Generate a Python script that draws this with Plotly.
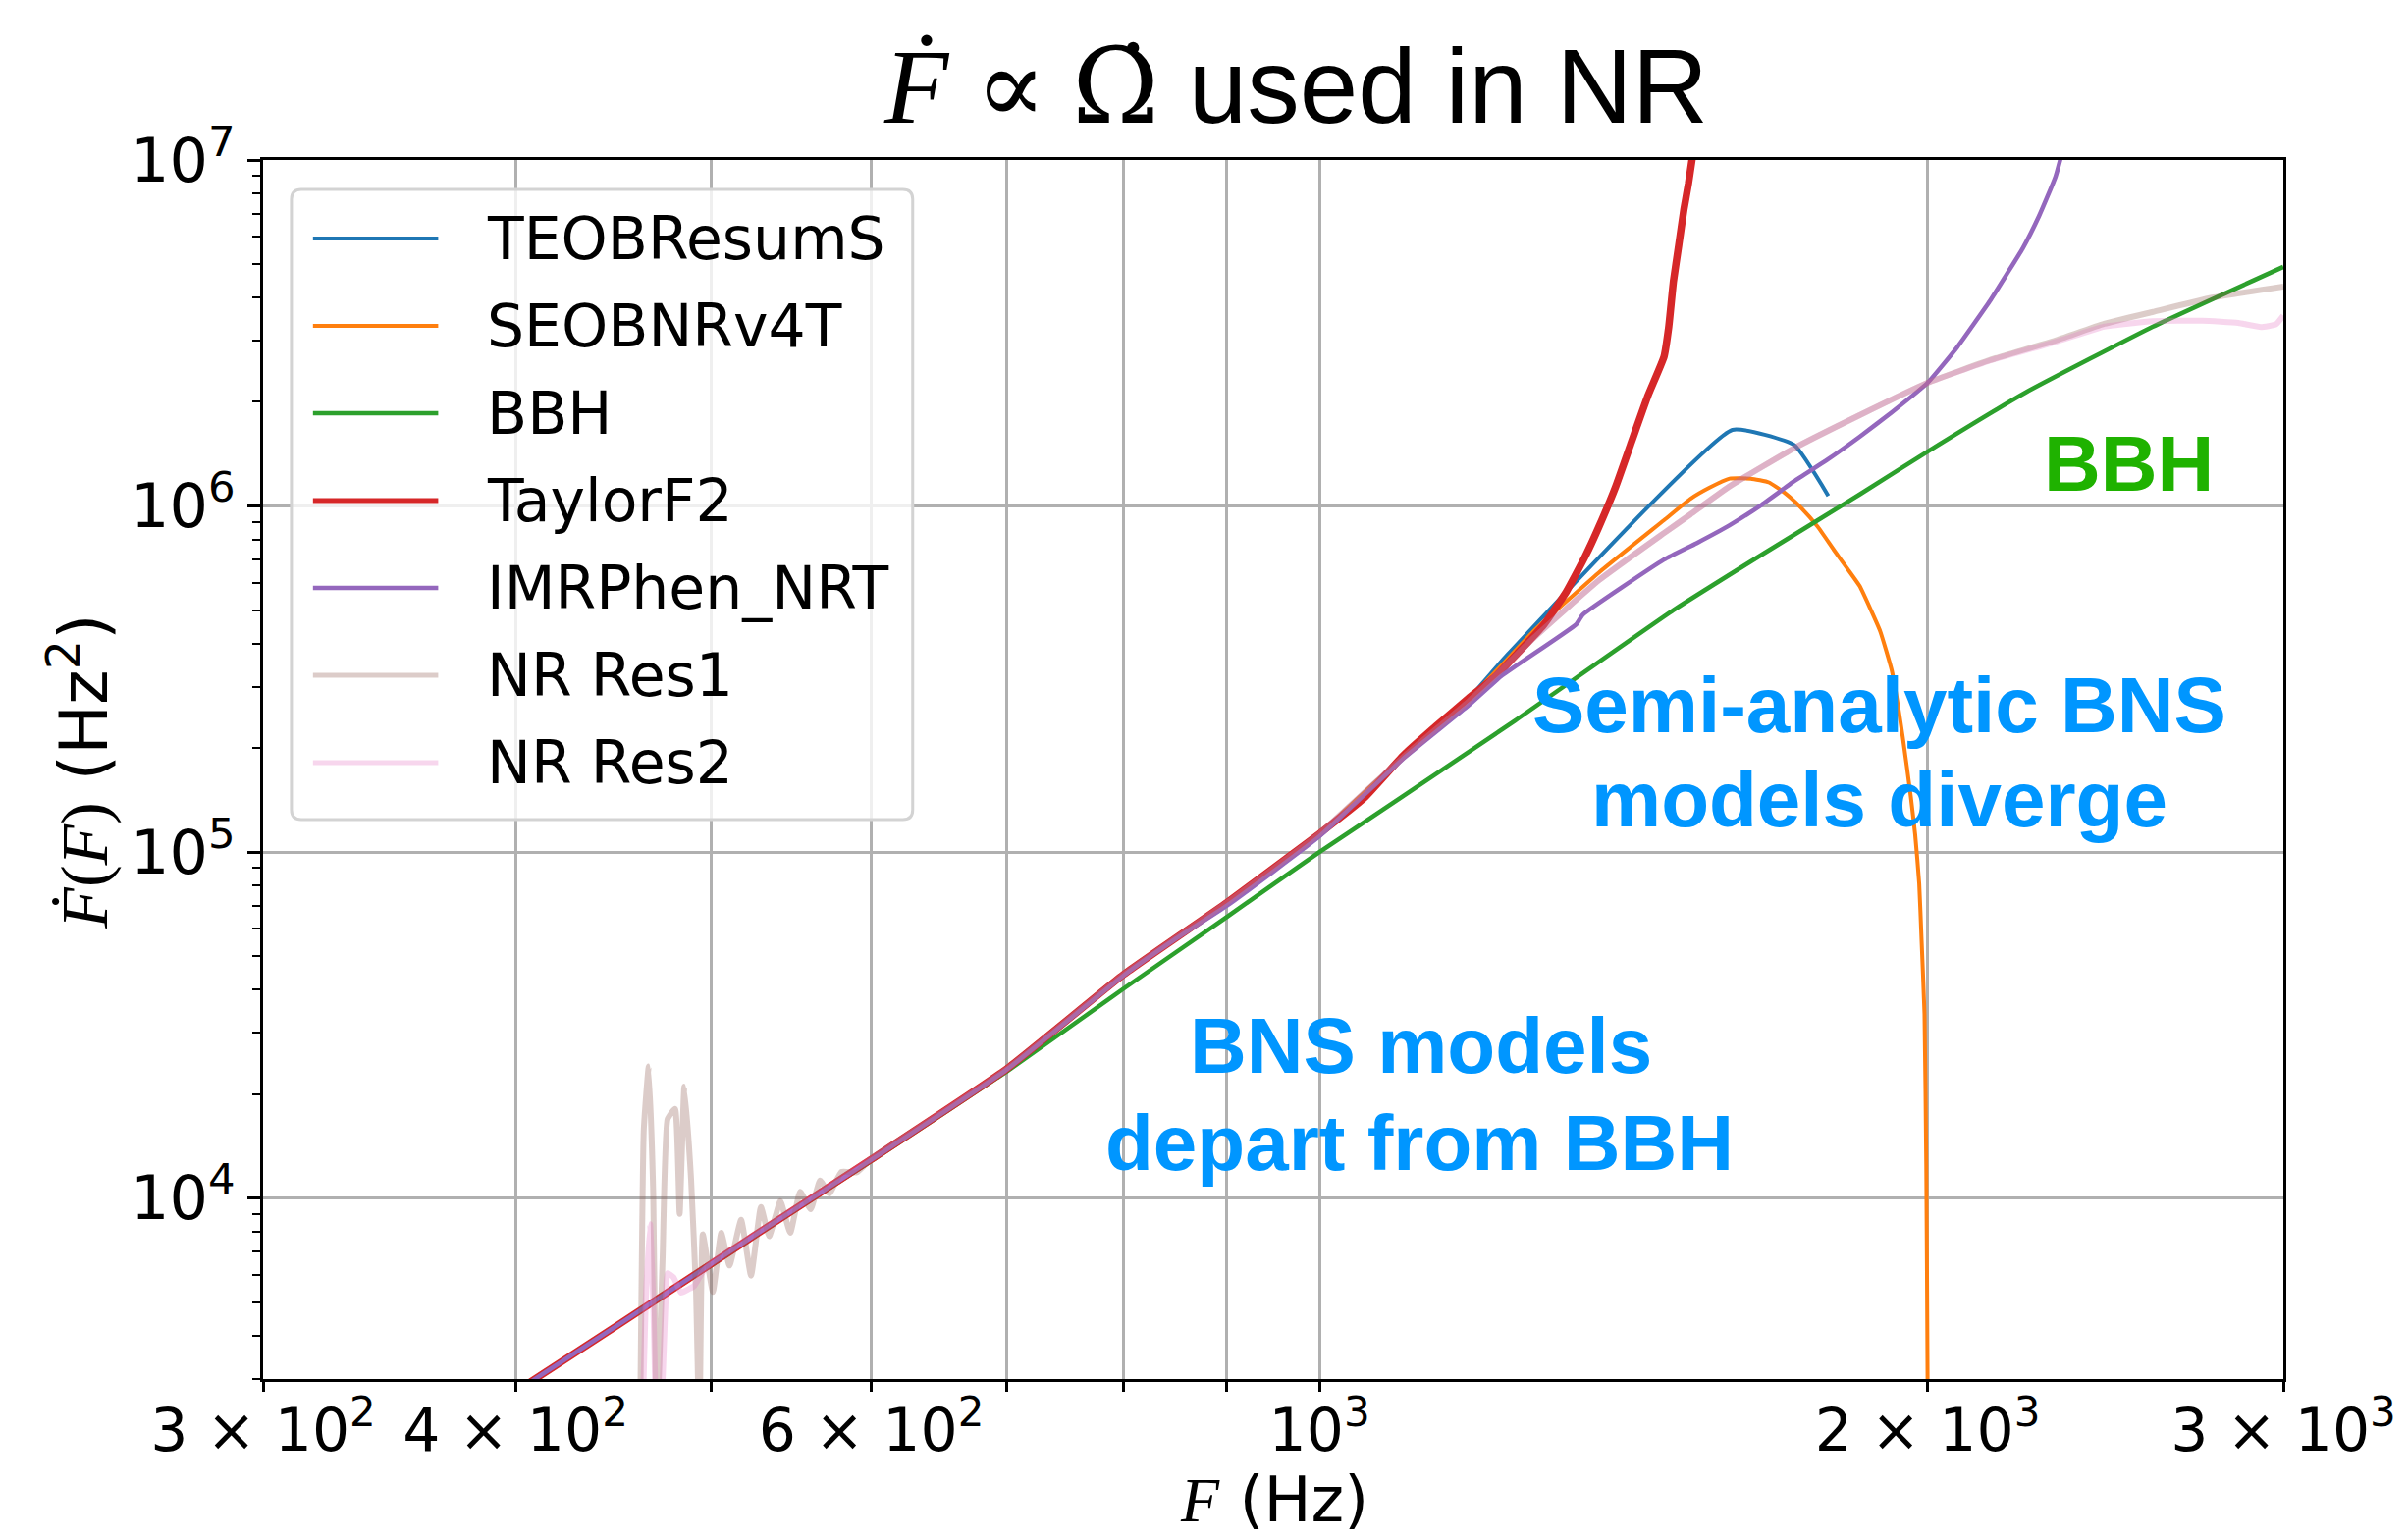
import math
import plotly.graph_objects as go

# ---------------- data ----------------
TEOB_F = [400, 450, 500, 533, 600, 700, 800, 900, 1000, 1100, 1185, 1239, 1601, 1718, 1786]
TEOB_FD = [2757, 4313, 6460, 8250, 12950, 23600, 44300, 71500, 1.13e5, 1.89e5, 2.77e5, 3.72e5,
           1.66e6, 1.50e6, 1.07e6]

SEOB_F = [400, 450, 500, 533, 600, 700, 800, 900, 1000, 1100, 1185, 1230, 1276, 1375, 1481, 1526,
          1560, 1596, 1635, 1669, 1700, 1731, 1765, 1797, 1825, 1851, 1875, 1895, 1920, 1944, 1962,
          1972, 1981, 1986, 1993, 1997, 2000, 2001]
SEOB_FD = [2757, 4313, 6460, 8250, 12950, 23600, 44300, 71500, 1.13e5, 1.89e5, 2.76e5, 3.45e5,
           4.34e5, 6.42e5, 9.1e5, 1.048e6, 1.13e6, 1.2e6, 1.2e6, 1.17e6, 1.09e6, 9.9e5, 8.7e5,
           7.48e5, 6.6e5, 5.87e5, 5.0e5, 4.34e5, 3.35e5, 2.16e5, 1.45e5, 1.12e5, 8.1e4, 5.7e4,
           3.4e4, 1.25e4, 3000, 1000]

BBH_F = [400, 450, 500, 533, 600, 700, 800, 900, 1000, 1100, 1250, 1497, 1656, 1851, 2000, 2237,
         2586, 3000]
BBH_FD = [2750, 4300, 6400, 8200, 12800, 23200, 40300, 65000, 1.0e5, 1.45e5, 2.4e5, 5.0e5, 7.24e5,
          1.08e6, 1.437e6, 2.13e6, 3.3e6, 4.91e6]

TF2_F = [400, 450, 500, 533, 600, 700, 800, 900, 1000, 1052, 1100, 1142, 1185, 1221, 1253, 1291,
         1325, 1354, 1375, 1401, 1427, 1454, 1481, 1489, 1497, 1506, 1515, 1523, 1529, 1540]
TF2_FD = [2757, 4313, 6460, 8250, 12950, 23600, 44300, 71500, 1.13e5, 1.43e5, 1.9e5, 2.31e5,
          2.78e5, 3.2e5, 3.75e5, 4.53e5, 5.65e5, 7.16e5, 8.7e5, 1.13e6, 1.53e6, 2.08e6, 2.7e6,
          3.29e6, 4.46e6, 5.66e6, 7.2e6, 8.57e6, 1.0e7, 1.3e7]

IMR_F = [400, 450, 500, 533, 600, 700, 800, 848, 900, 1000, 1100, 1185, 1230, 1340, 1350, 1481,
         1537, 1596, 1656, 1718, 1784, 1851, 1921, 2000, 2069, 2147, 2188, 2229, 2271, 2314, 2345]
IMR_FD = [2757, 4313, 6460, 8250, 12900, 23500, 44000, 55900, 70000, 1.11e5, 1.86e5, 2.65e5,
          3.22e5, 4.55e5, 4.85e5, 7.0e5, 7.81e5, 8.8e5, 1.01e6, 1.18e6, 1.36e6, 1.585e6, 1.87e6,
          2.27e6, 2.88e6, 3.91e6, 4.66e6, 5.55e6, 6.89e6, 8.95e6, 1.2e7]

NR1_F = [461, 463, 465.6, 468, 469.8, 473, 475.7, 479.8, 482.3, 484.9, 488.6, 491.4, 493.3, 495.2,
         500.9, 505.7, 510.5, 517.3, 523.2, 529.1, 534.1, 541, 547.1, 553.3, 560, 566, 572, 580,
         590, 600, 650, 700, 800, 900, 1000, 1100, 1185, 1230, 1276, 1375, 1481, 1526, 1596, 1718,
         1851, 2000, 2147, 2314, 2446, 2586, 2766, 3000]
NR1_FD = [2000, 15800, 24000, 10300, 2000, 6650, 16900, 18100, 9000, 21000, 11400, 5330, 2000,
          7855, 5357, 7940, 6387, 8651, 5966, 9427, 7757, 9795, 7935, 10423, 9289, 11240, 10305,
          11910, 11860, 13000, 17600, 23600, 44300, 71500, 1.13e5, 1.88e5, 2.72e5, 3.35e5, 4.15e5,
          6.1e5, 8.35e5, 9.45e5, 1.14e6, 1.47e6, 1.83e6, 2.27e6, 2.64e6, 3.01e6, 3.36e6, 3.64e6,
          4.0e6, 4.31e6]

NR2_F = [462, 464, 466.3, 468, 470, 472.5, 474.5, 475.7, 479, 483, 487, 490.3, 495, 500, 533, 600,
         700, 800, 900, 1000, 1100, 1185, 1230, 1276, 1375, 1481, 1526, 1596, 1718, 1851, 2000,
         2147, 2314, 2446, 2586, 2735, 2850, 2924, 2975, 3000]
NR2_FD = [2000, 5000, 8400, 5000, 2000, 2600, 4800, 6070, 5900, 5330, 5450, 5570, 6100, 6500, 8300,
          13000, 23600, 44300, 71500, 1.13e5, 1.88e5, 2.72e5, 3.35e5, 4.15e5, 6.1e5, 8.35e5,
          9.45e5, 1.14e6, 1.47e6, 1.83e6, 2.27e6, 2.63e6, 2.98e6, 3.3e6, 3.42e6, 3.43e6, 3.38e6,
          3.29e6, 3.35e6, 3.55e6]

SERIES_NAMES = ["TEOBResumS", "SEOBNRv4T", "BBH", "TaylorF2", "IMRPhen_NRT", "NR Res1", "NR Res2"]
SERIES_COLORS = ["#1f77b4", "#ff7f0e", "#2ca02c", "#d62728", "#9467bd",
                 "rgba(140,86,75,0.3)", "rgba(227,119,194,0.3)"]
SERIES_WIDTHS = [4, 4, 4.5, 7.5, 4.5, 6, 6]

X_TICKVALS = [300, 400, 600, 1000, 2000, 3000]
X_TICKTEXT = ["3 × 10<sup>2</sup>", "4 × 10<sup>2</sup>", "6 × 10<sup>2</sup>",
              "10<sup>3</sup>", "2 × 10<sup>3</sup>", "3 × 10<sup>3</sup>"]
X_MINOR = [500, 700, 800, 900]
Y_TICKVALS = [1e4, 1e5, 1e6, 1e7]
Y_TICKTEXT = ["10<sup>4</sup>", "10<sup>5</sup>", "10<sup>6</sup>", "10<sup>7</sup>"]
Y_MINOR = [m * 10 ** e for e in (3, 4, 5, 6) for m in range(2, 10) if 3000 <= m * 10 ** e < 1e7]

# ---------------- layout geometry ----------------
W, H = 2453, 1568
PL, PR, PT, PB = 268, 2333, 163, 1405  # plot area in pixels


def px(x):
    return (x - PL) / (PR - PL)


def py(y):
    return (PB - y) / (PB - PT)


SERIF = "Liberation Serif, DejaVu Serif, serif"
SANS = "DejaVu Sans"
BOLD_SANS = "Liberation Sans, Arial, sans-serif"

fig = go.Figure()
data = [(TEOB_F, TEOB_FD), (SEOB_F, SEOB_FD), (BBH_F, BBH_FD), (TF2_F, TF2_FD),
        (IMR_F, IMR_FD), (NR1_F, NR1_FD), (NR2_F, NR2_FD)]
for (fx, fy), name, col, w in zip(data, SERIES_NAMES, SERIES_COLORS, SERIES_WIDTHS):
    fig.add_trace(go.Scatter(x=fx, y=fy, mode="lines", name=name,
                             line=dict(color=col, width=w, shape="spline", smoothing=0.4),
                             showlegend=False))

# ---------------- manual legend (matplotlib look) ----------------
shapes = []
lx0, lx1, ly0, ly1, r = 297, 932, 193, 835, 10
rx, ry = r / (PR - PL), r / (PB - PT)
X0, X1, Y0, Y1 = px(lx0), px(lx1), py(ly1), py(ly0)
path = (f"M{X0 + rx},{Y0} L{X1 - rx},{Y0} Q{X1},{Y0} {X1},{Y0 + ry} "
        f"L{X1},{Y1 - ry} Q{X1},{Y1} {X1 - rx},{Y1} L{X0 + rx},{Y1} Q{X0},{Y1} {X0},{Y1 - ry} "
        f"L{X0},{Y0 + ry} Q{X0},{Y0} {X0 + rx},{Y0} Z")
shapes.append(dict(type="path", path=path, xref="paper", yref="paper", layer="above",
                   fillcolor="rgba(255,255,255,0.8)", line=dict(color="#d3d3d3", width=3)))
annotations = []
row0, drow = 243, 89
for i, (name, col, w) in enumerate(zip(SERIES_NAMES, SERIES_COLORS, SERIES_WIDTHS)):
    yy = py(row0 + i * drow)
    shapes.append(dict(type="line", xref="paper", yref="paper", layer="above",
                       x0=px(319), x1=px(447), y0=yy, y1=yy,
                       line=dict(color=col, width=min(w, 5))))
    annotations.append(dict(text=name, x=px(495), y=yy, xref="paper", yref="paper",
                            xanchor="left", yanchor="middle", showarrow=False,
                            font=dict(family=SANS, size=60, color="black")))

# ---------------- titles and labels ----------------
annotations.append(dict(
    text=(f'<span style="font-family:{SERIF}"><i>Ḟ</i> ∝ </span>'
          '<span style="font-family:DejaVu Serif">Ω̇</span> used in NR'),
    x=px(1324), y=py(88), xref="paper", yref="paper", xanchor="center", yanchor="middle",
    showarrow=False, font=dict(family="Liberation Sans, Arial, sans-serif", size=107, color="black")))
annotations.append(dict(
    text=f'<span style="font-family:{SERIF}"><i>Ḟ</i>(<i>F</i>)</span> (Hz<sup>2</sup>)',
    x=px(80), y=py(786), xref="paper", yref="paper", xanchor="center", yanchor="middle",
    textangle=-90, showarrow=False, font=dict(family=SANS, size=68, color="black")))
annotations.append(dict(
    text=f'<span style="font-family:{SERIF}"><i>F</i></span> (Hz)',
    x=px(1302), y=py(1528), xref="paper", yref="paper", xanchor="center", yanchor="middle",
    showarrow=False, font=dict(family=SANS, size=64, color="black")))

# ---------------- in-plot callouts ----------------
GREEN_TXT = "#1FB200"
BLUE_TXT = "#0096FF"
callouts = [("BBH", 2175, 472, GREEN_TXT),
            ("Semi-analytic BNS", 1920, 718, BLUE_TXT),
            ("models diverge", 1920, 814, BLUE_TXT),
            ("BNS models", 1452, 1065, BLUE_TXT),
            ("depart from BBH", 1450, 1164, BLUE_TXT)]
for txt, cx, cy, col in callouts:
    annotations.append(dict(text=f"<b>{txt}</b>", x=px(cx), y=py(cy), xref="paper", yref="paper",
                            xanchor="center", yanchor="middle", showarrow=False,
                            font=dict(family=BOLD_SANS, size=80, color=col)))

fig.update_layout(
    width=W, height=H, autosize=False,
    margin=dict(l=PL, r=W - PR, t=PT, b=H - PB, pad=0),
    paper_bgcolor="white", plot_bgcolor="white",
    font=dict(family=SANS, size=60, color="black"),
    showlegend=False,
    shapes=shapes, annotations=annotations,
    xaxis=dict(type="log", range=[math.log10(300), math.log10(3000)],
               tickmode="array", tickvals=X_TICKVALS, ticktext=X_TICKTEXT,
               ticks="outside", ticklen=10, tickwidth=2.5, tickcolor="black",
               ticklabelstandoff=-12,
               showgrid=True, gridcolor="#b0b0b0", gridwidth=2.5, zeroline=False,
               showline=True, linecolor="black", linewidth=3, mirror=True,
               tickfont=dict(family=SANS, size=60, color="black"),
               minor=dict(tickmode="array", tickvals=X_MINOR, ticks="outside", ticklen=10,
                          tickwidth=2.5, tickcolor="black", showgrid=True,
                          gridcolor="#b0b0b0", gridwidth=2.5)),
    yaxis=dict(type="log", range=[math.log10(3000), 7],
               tickmode="array", tickvals=Y_TICKVALS, ticktext=Y_TICKTEXT,
               ticks="outside", ticklen=13, tickwidth=2.5, tickcolor="black",
               showgrid=True, gridcolor="#b0b0b0", gridwidth=2.5, zeroline=False,
               showline=True, linecolor="black", linewidth=3, mirror=True,
               tickfont=dict(family=SANS, size=62, color="black"),
               minor=dict(tickmode="array", tickvals=Y_MINOR, ticks="outside", ticklen=8,
                          tickwidth=2, tickcolor="black", showgrid=False)),
)

fig.write_html("out.html")
